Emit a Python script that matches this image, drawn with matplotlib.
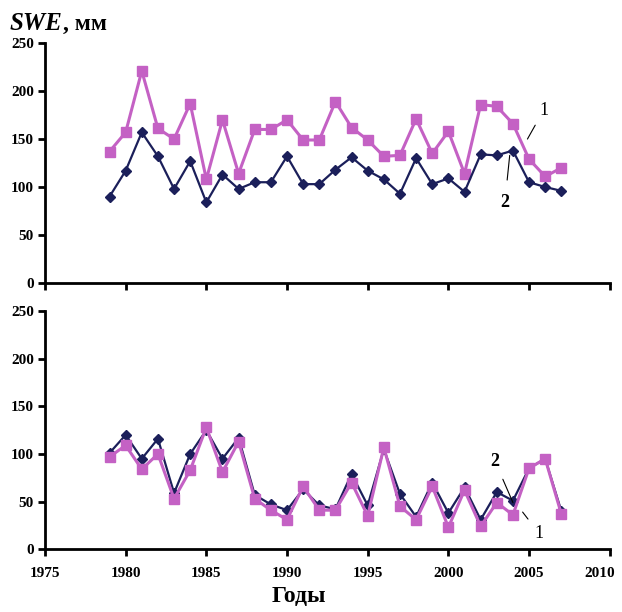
import matplotlib
matplotlib.use('Agg')
import matplotlib.pyplot as plt

# Data
years = list(range(1979, 2008))

# Upper panel
top_1 = [137, 157, 221, 161, 150, 187, 108, 170, 114, 160, 160, 170, 149, 149,
         189, 162, 149, 132, 133, 171, 135, 158, 114, 186, 184, 166, 129, 111, 120]
top_2 = [90, 117, 157, 132, 98, 127, 84, 113, 98, 105, 105, 132, 103, 103,
         118, 131, 117, 108, 93, 130, 103, 109, 95, 134, 133, 138, 105, 100, 96]

# Lower panel
bot_1 = [97, 109, 84, 100, 53, 83, 128, 81, 113, 53, 41, 31, 66, 41,
         41, 70, 35, 107, 45, 31, 66, 23, 62, 24, 49, 36, 85, 95, 37]
bot_2 = [101, 120, 95, 116, 59, 100, 125, 95, 117, 57, 47, 41, 63, 46,
         42, 79, 46, 105, 58, 34, 70, 38, 65, 31, 60, 51, 85, 95, 40]

x_ticks = [1975, 1980, 1985, 1990, 1995, 2000, 2005, 2010]
y_ticks = [0, 50, 100, 150, 200, 250]

PINK = '#c461c4'
NAVY = '#1b1f5a'
FONT = 'Liberation Serif'
TICK_FONT_SIZE = 11

plt.rcParams['font.family'] = FONT
plt.rcParams['font.weight'] = 'bold'

fig = plt.figure(figsize=(6.22, 6.12), dpi=100)
ax_top = fig.add_axes([0.0723, 0.5376, 0.908, 0.392])
ax_bot = fig.add_axes([0.0723, 0.1026, 0.908, 0.389])


def style_axis(ax, show_xlabels):
    ax.set_xlim(1975, 2010)
    ax.set_ylim(0, 250)
    ax.set_xticks(x_ticks)
    ax.set_yticks(y_ticks)
    for side in ['top', 'right']:
        ax.spines[side].set_visible(False)
    for side in ['left', 'bottom']:
        ax.spines[side].set_linewidth(2)
        ax.spines[side].set_color('black')
    ax.tick_params(axis='both', direction='out', length=5, width=2,
                   labelsize=TICK_FONT_SIZE, pad=3)
    ax.tick_params(axis='x', pad=8)
    if show_xlabels:
        # last label sits at the figure edge, keep it inside
        labels = [str(v) for v in x_ticks[:-1]] + ['']
        ax.set_xticklabels(labels)
        ax.annotate(str(x_ticks[-1]), xy=(x_ticks[-1], 0), xycoords='data',
                    xytext=(-7, -13), textcoords='offset points',
                    fontsize=TICK_FONT_SIZE, fontweight='bold',
                    ha='center', va='top', annotation_clip=False)
    else:
        ax.set_xticklabels([])
    for lab in ax.get_xticklabels() + ax.get_yticklabels():
        lab.set_fontweight('bold')


# Upper panel: 1 (pink squares), 2 (navy diamonds)
ax_top.plot(years, top_1, color=PINK, lw=2.2, marker='s', ms=6.5, mec=PINK, zorder=3)
ax_top.plot(years, top_2, color=NAVY, lw=1.6, marker='D', ms=5, mec=NAVY, zorder=3)
style_axis(ax_top, False)

ax_top.annotate('1', xy=(2004.9, 150), xytext=(2005.9, 180), fontsize=13,
                ha='center', va='center', fontweight='normal',
                arrowprops=dict(arrowstyle='-', color='black', lw=0.8,
                                shrinkA=3, shrinkB=0))
ax_top.annotate('2', xy=(2003.8, 133), xytext=(2003.5, 84), fontsize=13,
                ha='center', va='center', fontweight='bold',
                arrowprops=dict(arrowstyle='-', color='black', lw=0.8,
                                shrinkA=8, shrinkB=0))

# Lower panel
ax_bot.plot(years, bot_2, color=NAVY, lw=1.6, marker='D', ms=5, mec=NAVY, zorder=3)
ax_bot.plot(years, bot_1, color=PINK, lw=2.2, marker='s', ms=6.5, mec=PINK, zorder=3)
style_axis(ax_bot, True)

ax_bot.annotate('2', xy=(2004.0, 49), xytext=(2002.9, 92), fontsize=13,
                ha='center', va='center', fontweight='bold',
                arrowprops=dict(arrowstyle='-', color='black', lw=0.8,
                                shrinkA=5, shrinkB=0))
ax_bot.annotate('1', xy=(2004.6, 39), xytext=(2005.6, 17), fontsize=13,
                ha='center', va='center', fontweight='normal',
                arrowprops=dict(arrowstyle='-', color='black', lw=0.8,
                                shrinkA=4, shrinkB=0))

# Y axis title: "SWE" in bold italic followed by ", мм"
t1 = fig.text(0.016, 0.943, 'SWE', fontsize=18, fontweight='bold',
              fontstyle='italic', ha='left', va='bottom')
ax_top.annotate(', мм', xy=(1, 0), xycoords=t1, fontsize=17, fontweight='bold',
                ha='left', va='bottom', annotation_clip=False)

# X axis title
fig.text(0.48, 0.008, 'Годы', fontsize=17, fontweight='bold', ha='center', va='bottom')

fig.savefig('out.png', dpi=100)
